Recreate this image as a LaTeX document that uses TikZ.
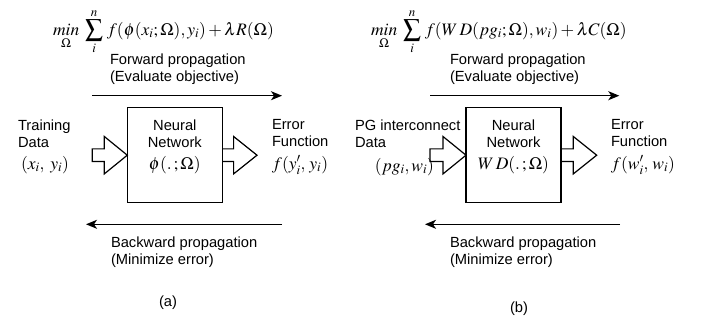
\documentclass[tikz,border=0pt]{standalone}
\usepackage{amsmath}
\usepackage{mathptmx}
\usepackage[no-math]{fontspec}
\setmainfont{Liberation Sans}
\usetikzlibrary{arrows.meta,calc}
\begin{document}
\begin{tikzpicture}[x=1pt,y=-1pt,
  every node/.style={inner sep=0pt,outer sep=0pt,font=\fontsize{14.7}{17}\selectfont},
  txt/.style={align=left,anchor=west},
  nnbox/.style={draw,line width=1.3pt,minimum width=95pt,minimum height=95pt},
  blk/.style={draw,line width=1.2pt,line join=miter},
  flow/.style={line width=1.3pt,-{Stealth[length=11pt,width=9pt,inset=3pt]}},
  mfont/.style={font=\fontsize{17.5}{20}\selectfont},
  mth/.style={anchor=west,mfont}]
\useasboundingbox (0,0) rectangle (702,320);

% ---------- panel (a) ----------
\node[mth] (fa) at (53,32) {$\displaystyle \mathop{min}\limits_{\Omega}\;\sum_{i}^{n}\, f(\phi(x_i;\Omega),y_i)+\lambda R(\Omega)$};
\node[txt] (fwa) at (110,69.5) {Forward propagation\\(Evaluate objective)};
\coordinate (fa1) at (92,95.7);
\coordinate (fa2) at (282,95.7);
\draw[flow] (fa1) -- (fa2);

\node[nnbox] (boxA) at (174.8,155.2) {};
\node[align=center] (nnA) at (174.8,133.5) {Neural\\Network};
\node[mfont] (phiA) at (174.8,165) {$\phi(.\,;\Omega)$};

\node[txt] (trA) at (18,133.5) {Training\\Data};
\node[mth] (xyA) at (21,165) {$(x_i,\;y_i)$};
\node[txt] (efA) at (272,133.5) {Error\\Function};
\node[mth] (fyA) at (272,165) {$f(y_i',\,y_i)$};

\draw[blk] (boxA.west) -- ++(-23,-18.7) -- ++(0,12.4) -- ++(-12,0) -- ++(0,12.6) -- ++(12,0) -- ++(0,12.4) -- cycle;
\draw[blk] ($(boxA.east)+(0,-6.3)$) -- ++(11.3,0) -- ++(0,-12.4) -- ++(23.4,18.7) -- ++(-23.4,18.7) -- ++(0,-12.4) -- ++(-11.3,0);

\coordinate (ba1) at (282,224.3);
\coordinate (ba2) at (86,224.3);
\draw[flow] (ba1) -- (ba2);
\node[txt] (bwa) at (111,252.5) {Backward propagation\\(Minimize error)};
\node (capa) at (168,303) {(a)};

% ---------- panel (b) ----------
\node[mth] (fb) at (371,32) {$\displaystyle \mathop{min}\limits_{\Omega}\;\sum_{i}^{n}\, f(W\,D(pg_i;\Omega),w_i)+\lambda C(\Omega)$};
\node[txt] (fwb) at (450,69.5) {Forward propagation\\(Evaluate objective)};
\coordinate (fb1) at (430,95.7);
\coordinate (fb2) at (619.3,95.7);
\draw[flow] (fb1) -- (fb2);

\node[nnbox] (boxB) at (513.5,155.2) {};
\node[align=center] (nnB) at (513.5,133.5) {Neural\\Network};
\node[mfont] (wdB) at (513.5,165) {$W\,D(.\,;\Omega)$};

\node[txt] (pgB) at (355,133.5) {PG interconnect\\Data};
\node[mfont,anchor=east] (pwB) at (434,167) {$(pg_i,w_i)$};
\node[txt] (efB) at (611,133.5) {Error\\Function};
\node[mth] (fwB) at (611,165) {$f(w_i',\,w_i)$};

\draw[blk] (boxB.west) -- ++(-23,-18.7) -- ++(0,12.4) -- ++(-13,0) -- ++(0,12.6) -- ++(13,0) -- ++(0,12.4) -- cycle;
\draw[blk] ($(boxB.east)+(0,-6.3)$) -- ++(12.3,0) -- ++(0,-12.4) -- ++(23.4,18.7) -- ++(-23.4,18.7) -- ++(0,-12.4) -- ++(-12.3,0);

\coordinate (bb1) at (620,224.3);
\coordinate (bb2) at (425,224.3);
\draw[flow] (bb1) -- (bb2);
\node[txt] (bwb) at (450,252.5) {Backward propagation\\(Minimize error)};
\node (capb) at (519,309) {(b)};
\end{tikzpicture}
\end{document}
